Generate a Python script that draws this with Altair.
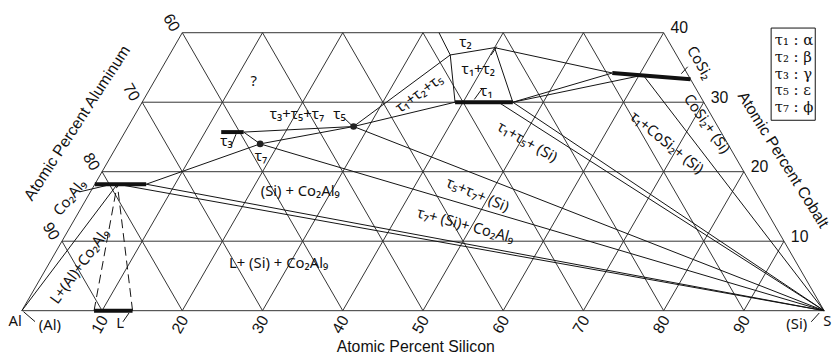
import altair as alt
import pandas as pd

# ---------------- frame / grid (at.%) ----------------
co_levels = [0, 10, 20, 30, 40]
si_levels = [10, 20, 30, 40, 50, 60, 70, 80, 90]
al_levels = [10, 20, 30, 40, 50, 60, 70, 80, 90]
bottom_ticks = [10, 20, 30, 40, 50, 60, 70, 80, 90]   # at.% Si
left_ticks = [60, 70, 80, 90]                          # at.% Al
right_ticks = [40, 30, 20, 10]                         # at.% Co
CO_MAX = 40

# ---------------- phase points (at.% Si, at.% Co) ----------------
pt_names = ["Al", "Si", "c9_a", "c9_b", "c9_p", "L_a", "L_b", "t3_a", "t3_b", "t7", "t5",
            "t1_a", "t1_m", "t1_b", "t2_top", "t2_l", "t2_r", "cs_a", "cs_m", "cs_b"]
pt_si = [0, 100, 0.0, 6.4, 2.8, 9.0, 13.8, 12.0, 14.8, 17.7, 28.1,
         39.0, 44.4, 46.2, 32.0, 35.0, 40.0, 56.5, 60.5, 66.7]
pt_co = [0, 0, 18.2, 18.2, 18.2, 0, 0, 25.7, 25.7, 24.0, 26.5,
         30.0, 30.0, 30.0, 40.0, 36.8, 37.85, 34.2, 33.9, 33.3]

solid_lines = [("t2_top", "t2_l"), ("t2_l", "t2_r"), ("t2_r", "cs_a"), ("t2_l", "t1_a"),
               ("t2_r", "t1_b"), ("t2_l", "t5"), ("t5", "t1_a"), ("t1_b", "cs_a"),
               ("t1_b", "cs_m"), ("t1_b", "Si"), ("t1_m", "Si"), ("cs_m", "Si"),
               ("t5", "Si"), ("t7", "Si"), ("t7", "t5"), ("t3_b", "t5"), ("t3_b", "t7"),
               ("t7", "c9_b"), ("c9_b", "Si"), ("c9_p", "Si"), ("Al", "c9_p")]
dashed_lines = [("L_a", "c9_p"), ("L_b", "c9_p")]
thick_lines = [("c9_a", "c9_b"), ("L_a", "L_b"), ("t3_a", "t3_b"), ("t1_a", "t1_b"), ("cs_a", "cs_b")]
dot_points = ["t5", "t7"]

# ---------------- labels ----------------
lab_text = ["?", "τ₃+τ₅+τ₇", "τ₅", "τ₁+τ₂+τ₅", "τ₂", "τ₁+τ₂", "τ₁", "τ₁+τ₅+ (Si)",
            "τ₁+CoSi₂+ (Si)", "CoSi₂+ (Si)", "CoSi₂", "τ₃", "τ₇", "τ₅+τ₇+ (Si)",
            "τ₇+ (Si)+ Co₂Al₉", "(Si) + Co₂Al₉", "L+ (Si) + Co₂Al₉", "L+(Al)+Co₂Al₉",
            "Co₂Al₉", "Al", "(Al)", "L", "(Si)"]
lab_x = [28.9, 34.3, 39.6, 49.5, 55.3, 56.9, 57.9, 63.0, 80.4, 85.4, 84.5, 25.5, 29.8,
         56.8, 55.3, 34.7, 32.0, 7.2, 5.96, -0.83, 3.5, 12.25, 96.6]
lab_y = [33.0, 28.3, 28.3, 31.3, 38.7, 34.7, 31.6, 24.3, 24.2, 26.9, 35.7, 24.4, 22.3,
         16.7, 12.3, 17.2, 6.9, 6.4, 16.3, -1.46, -2.03, -1.75, -1.9]
lab_angle = [0, 0, 0, 324, 0, 0, 0, 30, 39, 55, 60, 0, 0, 23, 15, 0, 0, 306, 309, 0, 0, 0, 0]

leaders_x = [(0.2, 1.64), (12.6, 13.36), (98.4, 99.4), (7.2, 10.5), (26.1, 26.7),
             (40.2, 41.1), (56.4, 57.4), (58.5, 59.2), (82.2, 83.0)]
leaders_y = [(-0.14, -1.57), (-1.6, -0.33), (-1.6, -0.33), (17.1, 18.0), (23.7, 25.4),
             (27.7, 26.7), (30.4, 32.0), (36.8, 38.0), (34.1, 35.1)]

legend_lines = ["τ₁ : α", "τ₂ : β", "τ₃ : γ", "τ₅ : ε", "τ₇ : ϕ"]

# ---------------- build tables ----------------
P = {n: (s + c / 2.0, c) for n, s, c in zip(pt_names, pt_si, pt_co)}


def seg_rows(pairs):
    return [dict(x=P[a][0], y=P[a][1], x2=P[b][0], y2=P[b][1]) for a, b in pairs]


grid = []
for c in co_levels:
    grid.append(dict(x=c / 2.0, y=c, x2=100 - c / 2.0, y2=c))
grid.append(dict(x=0, y=0, x2=CO_MAX / 2.0, y2=CO_MAX))
grid.append(dict(x=100, y=0, x2=100 - CO_MAX / 2.0, y2=CO_MAX))
for s in si_levels:
    ce = min(CO_MAX, 100 - s)
    grid.append(dict(x=s, y=0, x2=s + ce / 2.0, y2=ce))
for a in al_levels:
    ce = min(CO_MAX, 100 - a)
    grid.append(dict(x=100 - a, y=0, x2=100 - a - ce / 2.0, y2=ce))

xs = alt.Scale(domain=[0, 100], nice=False, zero=False)
ys = alt.Scale(domain=[0, CO_MAX], nice=False, zero=False)


def rules(rows, **kw):
    return alt.Chart(pd.DataFrame(rows)).mark_rule(**kw).encode(
        x=alt.X("x:Q", scale=xs, axis=None), y=alt.Y("y:Q", scale=ys, axis=None),
        x2="x2:Q", y2="y2:Q")


grid_layer = rules(grid, color="#333333", strokeWidth=1)
solid_layer = rules(seg_rows(solid_lines), color="#111111", strokeWidth=1)
dashed_layer = rules(seg_rows(dashed_lines), color="#111111", strokeWidth=1, strokeDash=[9, 5])
thick_layer = rules(seg_rows(thick_lines), color="#111111", strokeWidth=4)
lead_rows = [dict(x=a[0], x2=a[1], y=b[0], y2=b[1]) for a, b in zip(leaders_x, leaders_y)]
lead_layer = rules(lead_rows, color="#111111", strokeWidth=1)

dots = pd.DataFrame([dict(x=P[n][0], y=P[n][1]) for n in dot_points])
dot_layer = alt.Chart(dots).mark_point(filled=True, color="#222222", size=45, opacity=1).encode(
    x=alt.X("x:Q", scale=xs, axis=None), y=alt.Y("y:Q", scale=ys, axis=None))

FONT = "Liberation Sans"
LFONT = "Noto Sans"


def texts(df, size, align="center", font=FONT):
    return alt.Chart(df).mark_text(align=align, baseline="middle", font=font, fontSize=size,
                                   color="#111111").encode(
        x=alt.X("x:Q", scale=xs, axis=None), y=alt.Y("y:Q", scale=ys, axis=None),
        text="t:N", angle=alt.Angle("a:Q", scale=None))


labels = pd.DataFrame(dict(t=lab_text, x=lab_x, y=lab_y, a=lab_angle))
label_layer = texts(labels, 15, font=LFONT)
si_label = texts(pd.DataFrame(dict(t=["Si"], x=[99.9], y=[-1.5], a=[0])), 15, align="left", font=LFONT)

bt = pd.DataFrame(dict(t=[str(v) for v in bottom_ticks], x=[v - 0.25 for v in bottom_ticks],
                       y=[-2.0] * len(bottom_ticks), a=[300] * len(bottom_ticks)))
lt = pd.DataFrame(dict(t=[str(v) for v in left_ticks],
                       x=[(100 - v) / 2.0 - 1.36 for v in left_ticks],
                       y=[(100 - v) + 1.42 for v in left_ticks], a=[60] * len(left_ticks)))
rt = pd.DataFrame(dict(t=[str(v) for v in right_ticks],
                       x=[100 - v / 2.0 + 0.86 for v in right_ticks],
                       y=[v + 0.6 for v in right_ticks], a=[0] * len(right_ticks)))
tick_layer = texts(bt, 16) + texts(lt, 16) + texts(rt, 16, align="left")

titles = pd.DataFrame(dict(t=["Atomic Percent Silicon", "Atomic Percent Aluminum", "Atomic Percent Cobalt"],
                           x=[49.1, 6.9, 94.9], y=[-5.3, 27.0, 21.7], a=[0, 303, 58]))
title_layer = texts(titles, 16)

box = pd.DataFrame([dict(x=93.4, x2=98.9, y=40.67, y2=27.4)])
box_layer = alt.Chart(box).mark_rect(fill="white", stroke="#111111", strokeWidth=1).encode(
    x=alt.X("x:Q", scale=xs, axis=None), y=alt.Y("y:Q", scale=ys, axis=None), x2="x2:Q", y2="y2:Q")
leg = pd.DataFrame(dict(t=legend_lines, x=[93.85] * 5, y=[38.96, 36.5, 34.1, 31.8, 29.3], a=[0] * 5))
leg_layer = texts(leg, 15, align="left", font="DejaVu Serif")

chart = alt.layer(grid_layer, solid_layer, dashed_layer, thick_layer, lead_layer, dot_layer,
                  label_layer, si_label, tick_layer, title_layer, box_layer, leg_layer).properties(
    width=811, height=281,
    padding={"left": 14, "top": 23, "right": 8, "bottom": 60},
    autosize=alt.AutoSizeParams(type="none"),
).configure_view(stroke=None)

chart.save("out.html", embed_options={"renderer": "svg", "actions": False})
